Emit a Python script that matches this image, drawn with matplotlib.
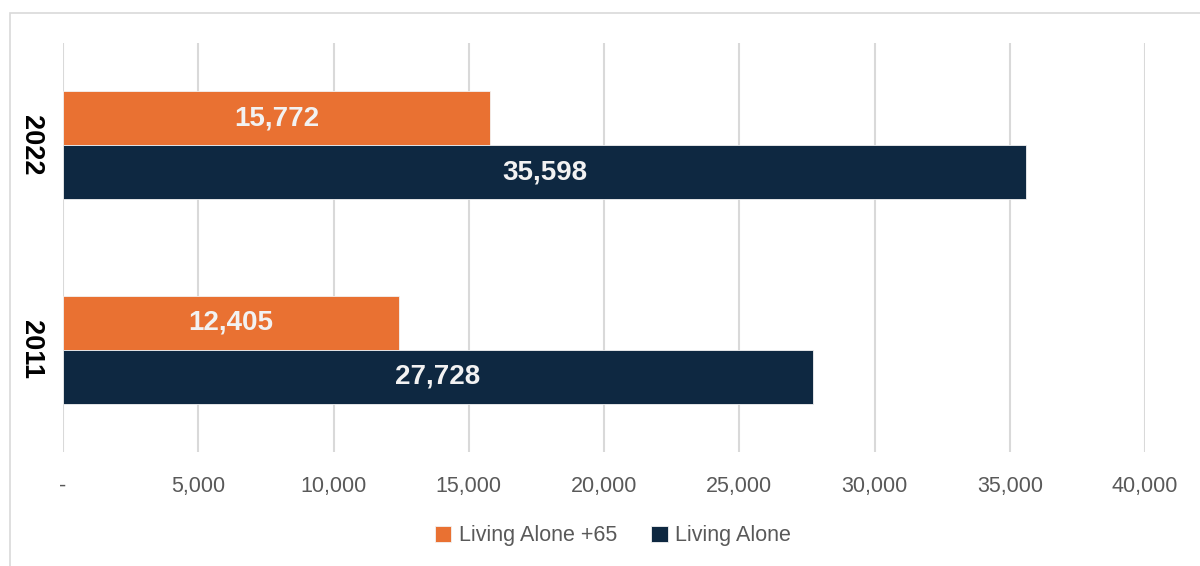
import matplotlib
matplotlib.use('Agg')
import matplotlib.pyplot as plt
import matplotlib.ticker as mticker
from matplotlib.patches import Rectangle
import numpy as np

# data
years = ['2011', '2022']
alone_65 = [12405, 15772]
alone_all = [27728, 35598]
series_names = ['Living Alone +65', 'Living Alone']
x_ticks = [0, 5000, 10000, 15000, 20000, 25000, 30000, 35000, 40000]

ORANGE = '#E97132'
NAVY = '#0E2841'
GRID = '#D9D9D9'

plt.rcParams['font.family'] = ['Liberation Sans', 'DejaVu Sans']

fig = plt.figure(figsize=(12, 5.66), dpi=100)
ax = fig.add_axes([0.0525, 0.2014, 0.9017, 0.7226])

# light frame around the chart area (runs off right/bottom edge like the source)
fig.patches.append(Rectangle((10 / 1200, -0.05), 1.1, 0.05 + (1 - 13 / 566),
                             transform=fig.transFigure, fill=False,
                             edgecolor=GRID, lw=1.2))

y = np.arange(len(years))
h = 0.264
b1 = ax.barh(y + h / 2, alone_65, h, color=ORANGE, label=series_names[0],
             edgecolor='#F2F2F2', linewidth=0.6, zorder=3)
b2 = ax.barh(y - h / 2, alone_all, h, color=NAVY, label=series_names[1],
             edgecolor='#F2F2F2', linewidth=0.6, zorder=3)

for bars in (b1, b2):
    for bar in bars:
        w = bar.get_width()
        ax.text(w / 2, bar.get_y() + bar.get_height() / 2, f'{w:,.0f}',
                ha='center', va='center', color='#F2F2F2', fontsize=20,
                fontweight='bold', zorder=4)

ax.set_xlim(0, 40000)
ax.set_ylim(-0.5, 1.5)
ax.set_xticks(x_ticks)
ax.xaxis.set_major_formatter(mticker.FuncFormatter(
    lambda v, _: '-' if v == 0 else f'{v:,.0f}'))
ax.set_yticks(y)
ax.set_yticklabels(years, rotation=-90, va='center', fontsize=19.5,
                   fontweight='bold', color='black')
ax.tick_params(axis='x', length=0, pad=17, labelsize=15.5, labelcolor='#595959')
ax.tick_params(axis='y', length=0, pad=14)
for s in ax.spines.values():
    s.set_visible(False)
ax.grid(axis='x', color=GRID, lw=1.5, zorder=0)
ax.set_axisbelow(True)

fig.legend(handles=[b1, b2], loc='center', bbox_to_anchor=(613 / 1200, 1 - 536 / 566),
           ncol=2, frameon=False, fontsize=15.5, labelcolor='#595959',
           handlelength=0.75, handleheight=0.75, handletextpad=0.35,
           columnspacing=1.6)

fig.savefig('out.png', dpi=100)
plt.close(fig)
